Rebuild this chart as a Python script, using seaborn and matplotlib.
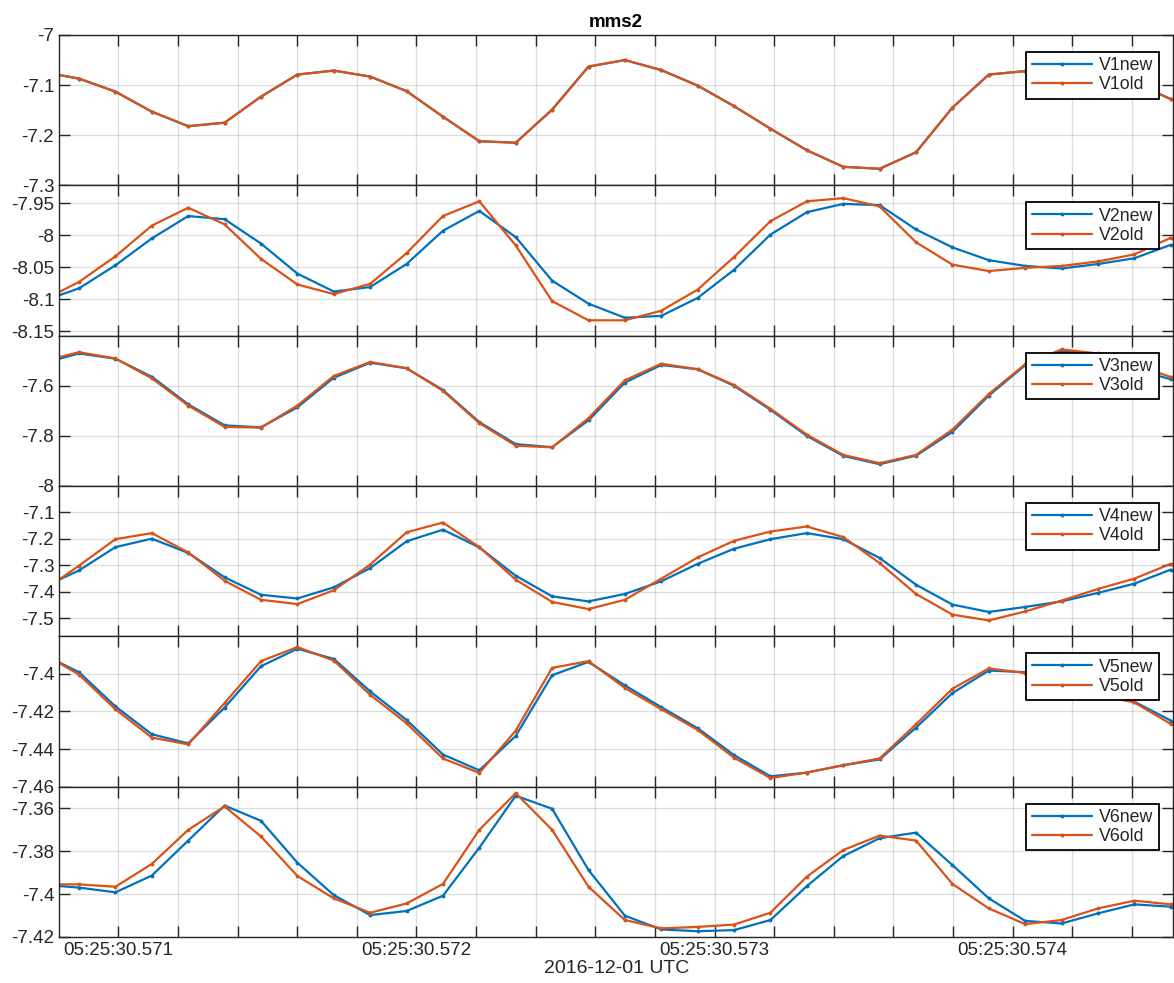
import numpy as np
import pandas as pd
import seaborn as sns
import matplotlib.pyplot as plt
from matplotlib.ticker import FuncFormatter, FixedLocator


FS = 8192                 # samples per second
T0 = 0.570868             # seconds after 05:25:30 of the first sample inside the window
K_FIRST = -1              # one sample left of the window so the line runs to the edge
XLIM = (0.570801, 0.574539)

# values, k = -1 .. 30
v1_old = [-7.074, -7.087, -7.113, -7.153, -7.182, -7.175, -7.123, -7.079, -7.071, -7.083,
          -7.112, -7.163, -7.212, -7.215, -7.149, -7.063, -7.050, -7.070, -7.101, -7.142,
          -7.187, -7.230, -7.263, -7.267, -7.234, -7.145, -7.079, -7.072, -7.066, -7.075,
          -7.095, -7.128]
v1_new = list(v1_old)     # identical, hidden under the old trace

v2_new = [-8.103, -8.083, -8.047, -8.005, -7.970, -7.975, -8.013, -8.060, -8.088, -8.081,
          -8.045, -7.993, -7.962, -8.003, -8.071, -8.107, -8.129, -8.126, -8.098, -8.054,
          -7.999, -7.964, -7.951, -7.953, -7.991, -8.019, -8.039, -8.048, -8.052, -8.045,
          -8.036, -8.015]
v2_old = [-8.102, -8.073, -8.033, -7.985, -7.957, -7.983, -8.037, -8.077, -8.092, -8.076,
          -8.028, -7.970, -7.947, -8.016, -8.103, -8.133, -8.133, -8.118, -8.085, -8.034,
          -7.978, -7.947, -7.942, -7.955, -8.011, -8.046, -8.056, -8.051, -8.048, -8.041,
          -8.030, -8.004]

v3_new = [-7.510, -7.471, -7.492, -7.564, -7.674, -7.758, -7.766, -7.686, -7.568, -7.508,
          -7.530, -7.617, -7.745, -7.833, -7.845, -7.738, -7.587, -7.517, -7.534, -7.600,
          -7.696, -7.800, -7.880, -7.913, -7.879, -7.784, -7.639, -7.518, -7.462, -7.475,
          -7.534, -7.574]
v3_old = [-7.502, -7.466, -7.491, -7.570, -7.679, -7.764, -7.767, -7.679, -7.561, -7.505,
          -7.530, -7.620, -7.749, -7.839, -7.846, -7.729, -7.578, -7.512, -7.534, -7.597,
          -7.692, -7.795, -7.876, -7.909, -7.876, -7.775, -7.633, -7.514, -7.455, -7.471,
          -7.515, -7.565]

v4_new = [-7.383, -7.319, -7.231, -7.199, -7.253, -7.345, -7.411, -7.425, -7.383, -7.310,
          -7.209, -7.165, -7.232, -7.339, -7.417, -7.436, -7.408, -7.360, -7.294, -7.237,
          -7.201, -7.178, -7.201, -7.272, -7.373, -7.448, -7.476, -7.457, -7.436, -7.404,
          -7.369, -7.316]
v4_old = [-7.397, -7.301, -7.201, -7.178, -7.251, -7.358, -7.430, -7.446, -7.394, -7.297,
          -7.175, -7.138, -7.231, -7.354, -7.438, -7.465, -7.430, -7.350, -7.270, -7.207,
          -7.172, -7.153, -7.193, -7.291, -7.408, -7.486, -7.508, -7.474, -7.433, -7.389,
          -7.350, -7.294]

v5_new = [-7.3895, -7.3991, -7.4173, -7.4321, -7.4370, -7.4179, -7.3959, -7.3866, -7.3920,
          -7.4093, -7.4245, -7.4429, -7.4513, -7.4330, -7.4007, -7.3936, -7.4061, -7.4177,
          -7.4289, -7.4432, -7.4545, -7.4525, -7.4486, -7.4455, -7.4286, -7.4102, -7.3982,
          -7.3991, -7.4040, -7.4111, -7.4148, -7.4248]
v5_old = [-7.3890, -7.4004, -7.4188, -7.4339, -7.4375, -7.4155, -7.3932, -7.3857, -7.3929,
          -7.4111, -7.4263, -7.4450, -7.4527, -7.4302, -7.3968, -7.3932, -7.4075, -7.4188,
          -7.4298, -7.4446, -7.4554, -7.4525, -7.4486, -7.4450, -7.4268, -7.4079, -7.3971,
          -7.3995, -7.4040, -7.4111, -7.4152, -7.4266]

v6_new = [-7.3957, -7.3970, -7.3992, -7.3914, -7.3751, -7.3588, -7.3659, -7.3854, -7.4005,
          -7.4098, -7.4079, -7.4008, -7.3784, -7.3542, -7.3603, -7.3888, -7.4101, -7.4165,
          -7.4173, -7.4168, -7.4121, -7.3963, -7.3823, -7.3740, -7.3714, -7.3865, -7.4020,
          -7.4125, -7.4137, -7.4090, -7.4048, -7.4059]
v6_old = [-7.3955, -7.3955, -7.3966, -7.3860, -7.3701, -7.3592, -7.3732, -7.3916, -7.4020,
          -7.4087, -7.4044, -7.3953, -7.3701, -7.3530, -7.3701, -7.3966, -7.4121, -7.4160,
          -7.4153, -7.4142, -7.4087, -7.3919, -7.3795, -7.3728, -7.3751, -7.3953, -7.4067,
          -7.4140, -7.4121, -7.4067, -7.4031, -7.4048]

panels = [
    (v1_new, v1_old, (-7.3, -7.0), [-7.3, -7.2, -7.1, -7.0]),
    (v2_new, v2_old, (-8.157, -7.922), [-8.15, -8.1, -8.05, -8.0, -7.95]),
    (v3_new, v3_old, (-8.0, -7.4), [-8.0, -7.8, -7.6]),
    (v4_new, v4_old, (-7.568, -7.0), [-7.5, -7.4, -7.3, -7.2, -7.1]),
    (v5_new, v5_old, (-7.46, -7.38), [-7.46, -7.44, -7.42, -7.4]),
    (v6_new, v6_old, (-7.42, -7.35), [-7.42, -7.4, -7.38, -7.36]),
]

X_TICKS = [t / 10000 for t in range(5710, 5745, 2)]

BLUE = '#0072BD'
ORANGE = '#D95319'
AXCOL = '#262626'


def time_label(v, pos):
    ms = round(v * 10000)
    if ms % 10:
        return ''
    return '05:25:30.%03d' % ((ms // 10) % 1000)


def main():
    sns.set_style('ticks')
    plt.rcParams['font.family'] = ['Liberation Sans', 'DejaVu Sans']

    t = T0 + np.arange(K_FIRST, K_FIRST + len(v1_old)) / FS

    fig, axes = plt.subplots(6, 1, figsize=(11.74, 9.83), dpi=100, sharex=True)
    fig.subplots_adjust(left=0.0503, right=0.9995, top=0.9644, bottom=0.0468, hspace=0)

    for i, (ax, (new, old, ylim, yticks)) in enumerate(zip(axes, panels)):
        df = pd.DataFrame({'t': t, 'new': new, 'old': old})
        line_kw = dict(linewidth=1.6, marker='o', markersize=2.8, markeredgewidth=0)
        sns.lineplot(data=df, x='t', y='new', ax=ax, color=BLUE, label=f'V{i+1}new', **line_kw)
        sns.lineplot(data=df, x='t', y='old', ax=ax, color=ORANGE, label=f'V{i+1}old', **line_kw)

        ax.set_xlim(*XLIM)
        ax.set_ylim(*ylim)
        ax.yaxis.set_major_locator(FixedLocator(yticks))
        ax.yaxis.set_major_formatter(FuncFormatter(lambda v, p: f'{round(v, 4):g}'))
        ax.xaxis.set_major_locator(FixedLocator(X_TICKS))
        ax.xaxis.set_major_formatter(FuncFormatter(time_label))
        ax.set_xlabel('')
        ax.set_ylabel('')

        ax.grid(True, color=AXCOL, alpha=0.15, linewidth=1.0)
        ax.tick_params(direction='in', length=8, width=1.0, top=True, right=True,
                       labelsize=13.5, colors=AXCOL)
        for sp in ax.spines.values():
            sp.set_visible(True)
            sp.set_color(AXCOL)
            sp.set_linewidth(1.0)

        leg = ax.legend(loc='upper right', bbox_to_anchor=(0.987, 0.887), borderaxespad=0,
                        fontsize=12.8, frameon=True, fancybox=False, framealpha=1,
                        edgecolor='black', handlelength=3.4, handletextpad=0.4,
                        labelspacing=0.12, borderpad=0.3)
        leg.get_frame().set_linewidth(1.3)

    axes[0].set_title('mms2', fontsize=13.5, fontweight='bold', color='black', pad=6)
    axes[-1].set_xlabel('2016-12-01 UTC', fontsize=14, color=AXCOL, labelpad=1)

    plt.savefig('out.png', dpi=100)


if __name__ == '__main__':
    main()
